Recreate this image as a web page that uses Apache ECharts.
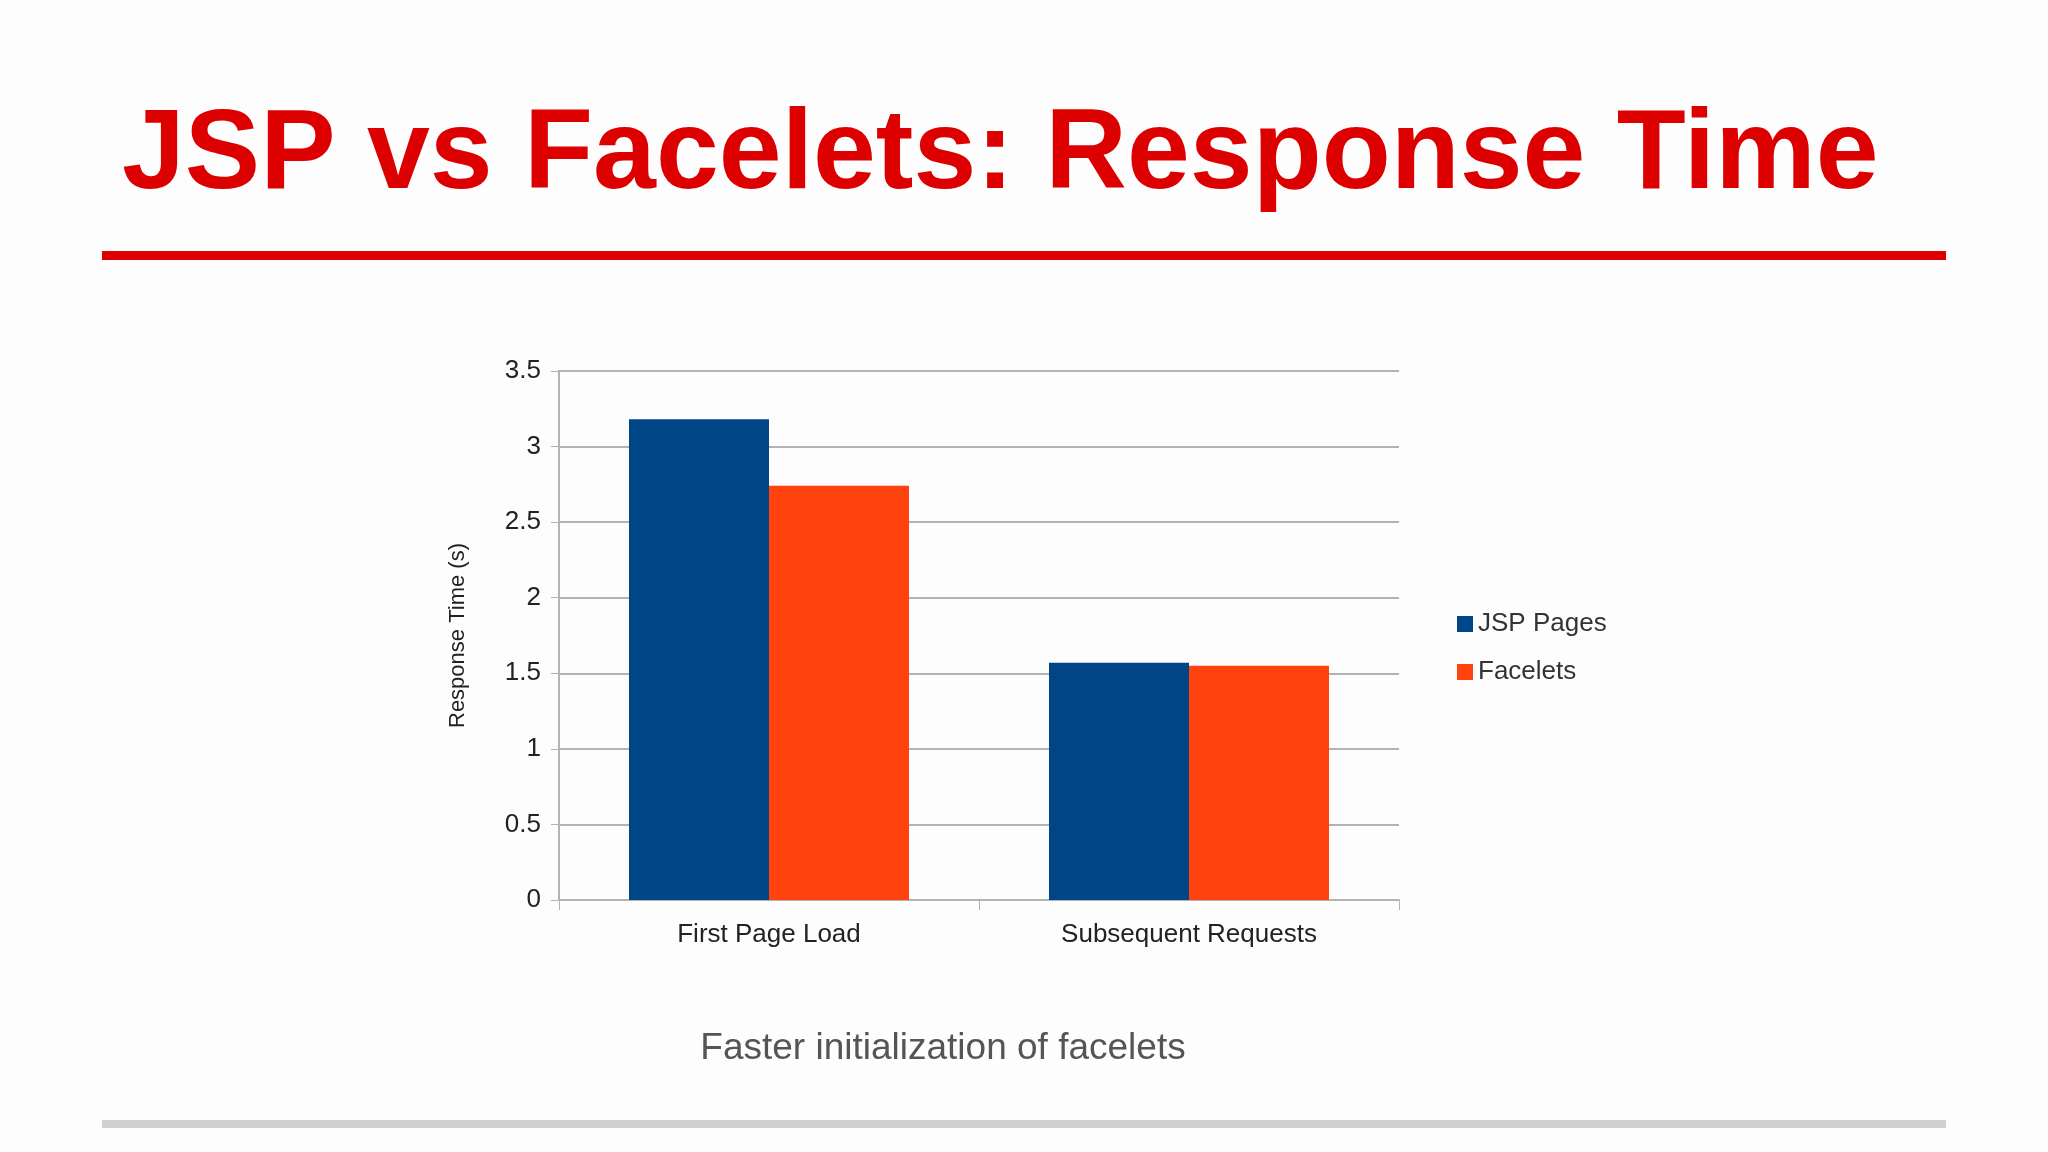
<!DOCTYPE html>
<html><head><meta charset="utf-8">
<script src="https://cdn.jsdelivr.net/npm/echarts@6/dist/echarts.min.js"></script>
<style>html,body{margin:0;padding:0;background:#fff}#c{width:2048px;height:1152px}</style>
</head><body><div id="c"></div>
<script>
const categories = ['First Page Load', 'Subsequent Requests'];
const jspPages = [3.18, 1.57];
const facelets = [2.74, 1.55];
const yTicks = [0, 0.5, 1, 1.5, 2, 2.5, 3, 3.5];

const chart = echarts.init(document.getElementById('c'));
const font = 'Liberation Sans, Arial, sans-serif';
chart.setOption({
  backgroundColor: '#fdfdfd',
  animation: false,
  graphic: [
    {type:'text', left:122, top:100, style:{text:'JSP vs Facelets: Response Time', font:'bold 113px Liberation Sans, Arial, sans-serif', fill:'#dd0000'}},
    {type:'rect', shape:{x:102, y:251, width:1844, height:9}, style:{fill:'#dd0000'}},
    {type:'rect', shape:{x:102, y:1120, width:1844, height:8}, style:{fill:'#d0d0d0'}},
    {type:'text', x:943, y:1049, style:{text:'Faster initialization of facelets', font:'37px Liberation Sans, Arial, sans-serif', fill:'#555555', align:'center', verticalAlign:'middle'}}
  ],
  legend: {
    orient:'vertical', left:1452, top:606, itemWidth:16, itemHeight:16, itemGap:22,
    icon:'rect', textStyle:{fontFamily:font, fontSize:26, color:'#333'}
  },
  grid: {left:559, top:371, width:840, height:529},
  xAxis: {
    type:'category', data:categories,
    axisLine:{lineStyle:{color:'#b3b3b3', width:2}},
    axisTick:{show:true, length:10, lineStyle:{color:'#b3b3b3'}},
    axisLabel:{fontFamily:font, fontSize:26, color:'#222', margin:22}
  },
  yAxis: {
    type:'value', min:0, max:3.5, interval:0.5,
    name:'Response Time (s)', nameLocation:'middle', nameGap:90, nameRotate:90,
    nameTextStyle:{fontFamily:font, fontSize:22, color:'#222'},
    axisLine:{show:true, lineStyle:{color:'#b3b3b3', width:2}},
    axisTick:{show:true, length:8, lineStyle:{color:'#b3b3b3'}},
    axisLabel:{fontFamily:font, fontSize:26, color:'#222', margin:18,
      formatter: v => yTicks.includes(v) ? String(v) : ''},
    splitLine:{lineStyle:{color:'#b3b3b3', width:2}}
  },
  series: [
    {name:'JSP Pages', type:'bar', data:jspPages, barWidth:140, barGap:'0%', itemStyle:{color:'#004586'}},
    {name:'Facelets', type:'bar', data:facelets, barWidth:140, itemStyle:{color:'#ff420e'}}
  ]
});
</script></body></html>
